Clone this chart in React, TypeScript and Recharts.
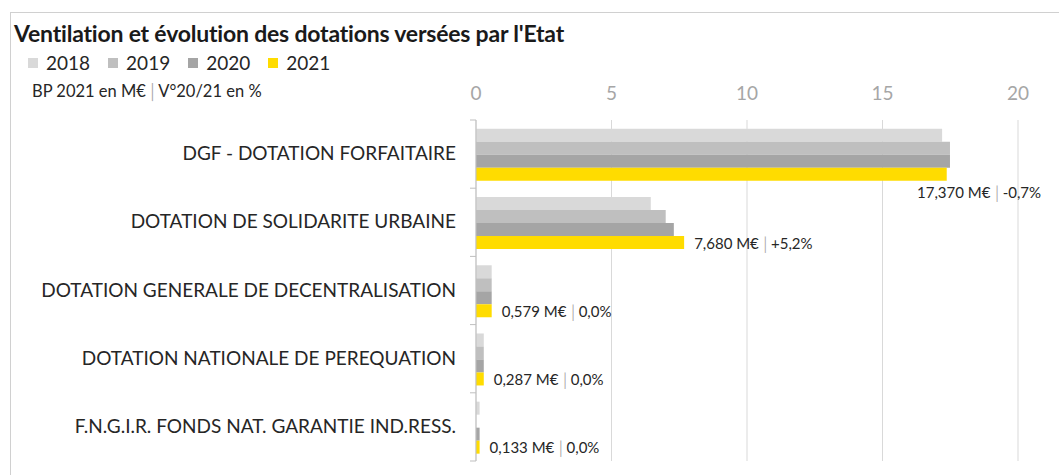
import { BarChart, Bar, XAxis, YAxis, CartesianGrid, LabelList } from "recharts";

const categories = [
  "DGF - DOTATION FORFAITAIRE",
  "DOTATION DE SOLIDARITE URBAINE",
  "DOTATION GENERALE DE DECENTRALISATION",
  "DOTATION NATIONALE DE PEREQUATION",
  "F.N.G.I.R. FONDS NAT. GARANTIE IND.RESS.",
];
const years = ["2018", "2019", "2020", "2021"];
const values2018 = [17.2, 6.45, 0.579, 0.287, 0.133];
const values2019 = [17.49, 7.0, 0.579, 0.287, 0];
const values2020 = [17.49, 7.3, 0.579, 0.287, 0.133];
const values2021 = [17.37, 7.68, 0.579, 0.287, 0.133];
const amountLabels = ["17,370", "7,680", "0,579", "0,287", "0,133"];
const variationLabels = ["-0,7%", "+5,2%", "0,0%", "0,0%", "0,0%"];
const xTicks = [0, 5, 10, 15, 20];

const colors = ["#d9d9d9", "#bfbfbf", "#a5a5a5", "#ffdc00"];
const FONT = "Lato, 'Open Sans', sans-serif";
const W = 1059;
const H = 475;
const PLOT_LEFT = 476;

const data = categories.map((name, i) => ({
  name,
  y2018: values2018[i],
  y2019: values2019[i],
  y2020: values2020[i],
  y2021: values2021[i],
}));

function ValueLabel(props: any) {
  const { x, y, width, height, index } = props;
  const labelW = 126;
  let lx = x + width + 10;
  let ly = y + height / 2 + 1;
  if (lx + labelW > W - 14) {
    lx = W - 16 - labelW;
    ly = y + height + 12;
  }
  return (
    <text x={lx} y={ly} dy={5} fontSize={15} fontFamily={FONT} fill="#262626">
      {amountLabels[index]} M€
      <tspan fill="#a6a6a6" dx={1}>│</tspan>
      <tspan dx={0}>{variationLabels[index]}</tspan>
    </text>
  );
}

// category label plus Excel-style tick marks on band edges
function CategoryTick(props: any) {
  const { x, y, payload, index, visibleTicksCount } = props;
  const half = payload && payload.offset ? payload.offset : 34;
  return (
    <g>
      <text x={x} y={y} dy={6} textAnchor="end" fontSize={19} fontFamily={FONT} fill="#262626">
        {payload.value}
      </text>
      <line x1={PLOT_LEFT - 6} x2={PLOT_LEFT} y1={y - half} y2={y - half} stroke="#bfbfbf" />
      {index === visibleTicksCount - 1 && (
        <line x1={PLOT_LEFT - 6} x2={PLOT_LEFT} y1={y + half} y2={y + half} stroke="#bfbfbf" />
      )}
    </g>
  );
}

export default function App() {
  return (
    <div style={{ position: "absolute", left: 0, top: 0, width: W, height: H, background: "#fff", fontFamily: FONT }}>
      <div
        style={{
          position: "absolute",
          left: 10,
          top: 12,
          width: W - 10,
          height: H - 12,
          border: "1px solid #d0d0d0",
          borderRight: "none",
          borderBottom: "none",
          boxSizing: "border-box",
        }}
      />
      <div style={{ position: "absolute", left: 14, top: 19, fontSize: 23, fontWeight: 700, color: "#1a1a1a", whiteSpace: "nowrap", letterSpacing: -0.2 }}>
        Ventilation et évolution des dotations versées par l'Etat
      </div>
      <div style={{ position: "absolute", left: 28, top: 51, display: "flex", fontSize: 19, color: "#262626" }}>
        {years.map((yr, i) => (
          <div key={yr} style={{ display: "flex", alignItems: "center", marginRight: 18 }}>
            <span style={{ display: "inline-block", width: 10, height: 10, background: colors[i], marginRight: 8 }} />
            {yr}
          </div>
        ))}
      </div>
      <div style={{ position: "absolute", left: 32, top: 81, fontSize: 16.5, color: "#262626", whiteSpace: "nowrap" }}>
        BP 2021 en M€<span style={{ color: "#a6a6a6" }}>│</span>V°20/21 en %
      </div>
      <div style={{ position: "absolute", left: 0, top: 0 }}>
        <BarChart
          width={W}
          height={H}
          data={data}
          layout="vertical"
          margin={{ top: 90, right: 41, bottom: 14, left: 0 }}
          barCategoryGap="13%"
          barGap={0}
        >
          <CartesianGrid vertical horizontal={false} stroke="#d9d9d9" />
          <XAxis
            type="number"
            orientation="top"
            domain={[0, 20]}
            ticks={xTicks}
            height={30}
            axisLine={false}
            tickLine={false}
            tickSize={0}
            tickMargin={20}
            tick={{ fontSize: 19, fill: "#a6a6a6", fontFamily: FONT }}
          />
          <YAxis
            type="category"
            dataKey="name"
            width={PLOT_LEFT}
            stroke="#bfbfbf"
            tickLine={false}
            tickSize={0}
            tickMargin={20}
            tick={<CategoryTick />}
          />
          {years.map((yr, i) => (
            <Bar key={yr} dataKey={`y${yr}`} fill={colors[i]} isAnimationActive={false}>
              {i === 3 && <LabelList dataKey="y2021" content={<ValueLabel />} />}
            </Bar>
          ))}
        </BarChart>
      </div>
    </div>
  );
}
